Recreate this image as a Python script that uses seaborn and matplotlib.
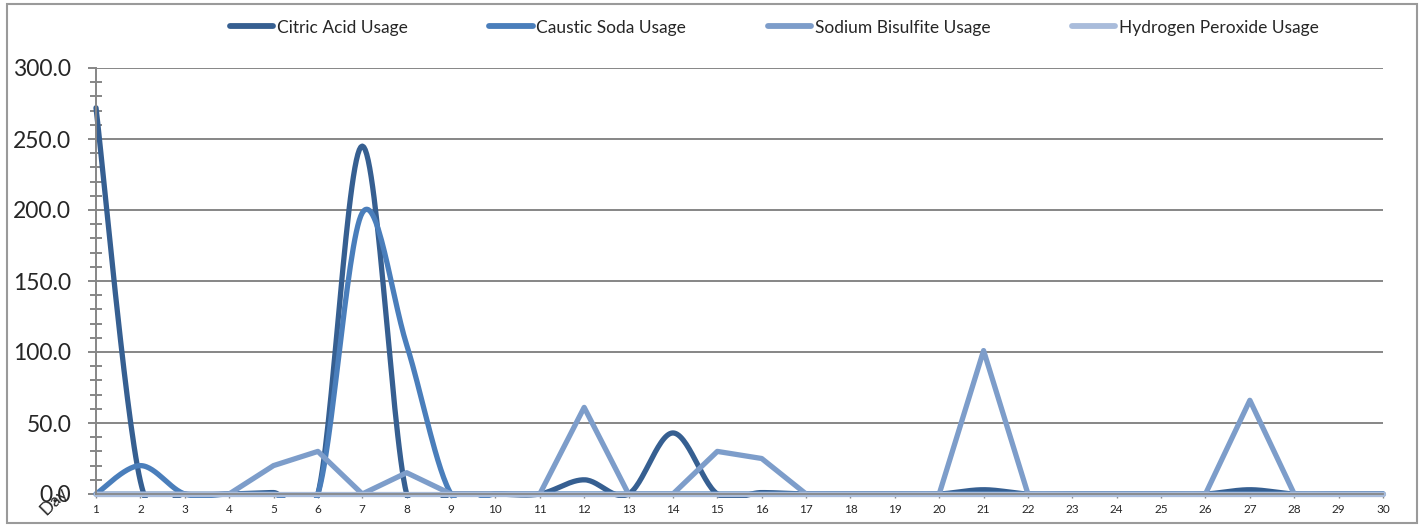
import numpy as np
import pandas as pd
import matplotlib
matplotlib.use("Agg")
import matplotlib.pyplot as plt
import seaborn as sns
from matplotlib.patches import Rectangle

# ─────────────────────────────────────────────
# DATA
# ─────────────────────────────────────────────
DAYS = list(range(1, 31))

CITRIC_ACID = [272, 9, 0, 0, 1, 0, 245, 0, 0, 0,
               0, 10, 0, 43, 0, 1, 0, 0, 0, 0,
               3, 0, 0, 0, 0, 0, 3, 0, 0, 0]
CAUSTIC_SODA = [0, 20, 0, 0, 0, 0, 198, 105, 0, 0,
                0, 0, 0, 0, 0, 0, 0, 0, 0, 0,
                0, 0, 0, 0, 0, 0, 0, 0, 0, 0]
SODIUM_BISULFITE = [0, 0, 0, 0, 20, 30, 0, 15, 0, 0,
                    0, 61, 0, 0, 30, 25, 0, 0, 0, 0,
                    101, 0, 0, 0, 0, 0, 66, 0, 0, 0]
HYDROGEN_PEROXIDE = [0] * 30

SERIES = ["Citric Acid Usage", "Caustic Soda Usage",
          "Sodium Bisulfite Usage", "Hydrogen Peroxide Usage"]
COLORS = ["#365F91", "#4A7EBB", "#7D9DCA", "#A9BCDB"]
SMOOTH = [True, True, False, False]


# ─────────────────────────────────────────────
# Excel-style bezier smoothing of a polyline
# ─────────────────────────────────────────────
def bezier_smooth(x, y, steps=30):
    p = np.column_stack([x, y]).astype(float)
    n = len(p)
    out = [p[0]]
    t = np.linspace(0, 1, steps + 1)[1:, None]
    for i in range(n - 1):
        p0 = p[i - 1] if i > 0 else p[i]
        p1, p2 = p[i], p[i + 1]
        p3 = p[i + 2] if i + 2 < n else p[i + 1]
        c1 = p1 + (p2 - p0) / 6
        c2 = p2 - (p3 - p1) / 6
        seg = ((1 - t) ** 3) * p1 + 3 * ((1 - t) ** 2) * t * c1 \
            + 3 * (1 - t) * t ** 2 * c2 + t ** 3 * p2
        out.extend(seg)
    out = np.array(out)
    return out[:, 0], out[:, 1]


frames = []
for name, vals, smooth in zip(SERIES, [CITRIC_ACID, CAUSTIC_SODA,
                                       SODIUM_BISULFITE, HYDROGEN_PEROXIDE], SMOOTH):
    if smooth:
        xs, ys = bezier_smooth(DAYS, vals)
    else:
        xs, ys = np.array(DAYS, float), np.array(vals, float)
    frames.append(pd.DataFrame({"day": xs, "usage": ys, "series": name}))
df = pd.concat(frames, ignore_index=True)

# ─────────────────────────────────────────────
# PLOT
# ─────────────────────────────────────────────
sns.set_theme(style="white")
plt.rcParams["font.family"] = ["Lato", "DejaVu Sans"]

fig = plt.figure(figsize=(14.2, 5.25), dpi=100)
ax = fig.add_axes([96 / 1420, 31 / 525, 1287 / 1420, 426 / 525])

sns.lineplot(data=df, x="day", y="usage", hue="series", hue_order=SERIES,
             palette=COLORS, estimator=None, sort=False, linewidth=3.8,
             ax=ax, legend=True)

clip = Rectangle((-0.006, -0.01), 1.012, 1.02, transform=ax.transAxes,
                 facecolor="none", edgecolor="none")
for ln in ax.get_lines():
    ln.set_clip_path(clip)
    ln.set_solid_capstyle("round")

ax.set_xlim(1, 30)
ax.set_ylim(0, 300)
ax.set_xticks(DAYS)
ax.set_xticklabels([str(d) for d in DAYS], fontsize=8.5)
ax.set_yticks(np.arange(0, 301, 50))
ax.set_yticklabels([f"{v:.1f}" for v in np.arange(0, 301, 50)], fontsize=16.5)
ax.set_yticks(np.arange(0, 301, 10), minor=True)
ax.set_xlabel("")
ax.set_ylabel("")

grey = "#868686"
ax.grid(axis="y", which="major", color=grey, linewidth=1.4)
ax.set_axisbelow(True)
for s in ["top", "right"]:
    ax.spines[s].set_visible(False)
ax.spines["left"].set_color(grey)
ax.spines["left"].set_linewidth(1.4)
ax.spines["bottom"].set_color(grey)
ax.tick_params(axis="y", which="major", direction="out", length=5.8,
               width=1.4, color=grey, pad=12, left=True)
ax.tick_params(axis="y", which="minor", direction="inout", length=8.6,
               width=1.4, color=grey, left=True)
ax.tick_params(axis="x", which="major", direction="out", length=3,
               width=1, color=grey, pad=4, bottom=True)

handles, labels = ax.get_legend_handles_labels()
ax.legend(handles, labels, loc="center", bbox_to_anchor=(0.527, 1.095),
          ncol=4, frameon=False, fontsize=12.5, handlelength=2.5,
          handletextpad=0.2, columnspacing=4.7)
for h in ax.get_legend().get_lines():
    h.set_linewidth(4.2)
    h.set_solid_capstyle("round")

fig.text(0.038, 0.046, "Day", rotation=45, fontsize=13,
         ha="center", va="center")

fig.patches.append(Rectangle((7 / 1420, 2 / 525), 1410 / 1420, 519 / 525,
                             transform=fig.transFigure, fill=False,
                             edgecolor="#9a9a9a", linewidth=1.5))

fig.savefig("out.png", dpi=100)
